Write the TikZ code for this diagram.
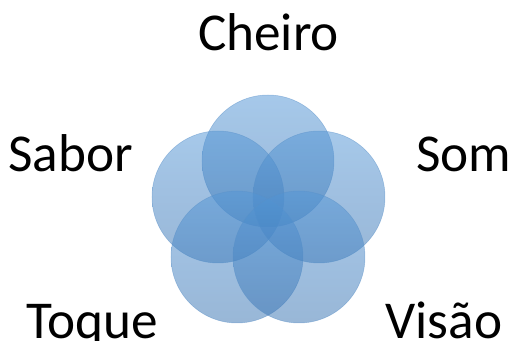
\documentclass[tikz,border=0pt]{standalone}
\usepackage{fontspec}
\setmainfont{Carlito}
\usetikzlibrary{positioning}
\definecolor{petaltop}{RGB}{84,150,214}
\definecolor{petalbot}{RGB}{58,116,178}
\definecolor{petalline}{RGB}{90,145,200}
\tikzstyle{petal} = [circle, minimum size=2.64cm, inner sep=0pt, top color=petaltop, bottom color=petalbot, fill opacity=0.52, draw=petalline, draw opacity=0.5, line width=0.3pt]
\tikzstyle{sense} = [anchor=base, font=\fontsize{30.3}{36}\selectfont]

\begin{document}
\begin{tikzpicture}[x=0.02cm, y=-0.02cm]
    \useasboundingbox (0,0) rectangle (512,341);
    % five overlapping circles around one centre
    \coordinate (mid) at (268,214);
    \node [petal] (top) at (268,161) {};
    \node [petal] (left) at (218,197) {};
    \node [petal] (right) at (319,197) {};
    \node [petal] (lowleft) at (237,257) {};
    \node [petal] (lowright) at (299,257) {};
    % labels
    \node [sense] (cheiro) at (268.5,51) {Cheiro};
    \node [sense] (sabor) at (70.5,172) {Sabor};
    \node [sense] (som) at (464,172) {Som};
    \node [sense] (toque) at (92.5,339) {Toque};
    \node [sense] (visao) at (444,339) {Visão};
\end{tikzpicture}
\end{document}
